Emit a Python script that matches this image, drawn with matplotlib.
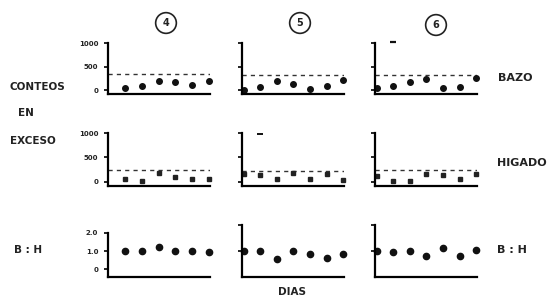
import matplotlib
matplotlib.use("Agg")
import matplotlib.pyplot as plt

# dias de muestreo por grupo (4, 5, 6)
dias_4 = [1, 2, 3, 4, 5, 6]
dias_56 = [0, 1, 2, 3, 4, 5, 6]

# conteos en exceso - bazo
bazo_4 = [40, 85, 190, 170, 100, 190]
bazo_5 = [0, 64, 190, 128, 20, 85, 210]
bazo_6 = [43, 85, 170, 234, 43, 64, 255]
bazo_ref = [340, 320, 320]

# conteos en exceso - higado
higado_4 = [61, 20, 184, 102, 61, 61]
higado_5 = [163, 143, 61, 184, 61, 163, 41]
higado_6 = [122, 20, 20, 163, 143, 61, 163]
higado_ref = [245, 225, 245]

# razon bazo : higado
bh_4 = [1.0, 1.0, 1.22, 1.0, 1.0, 0.94]
bh_5 = [1.0, 1.0, 0.56, 1.0, 0.83, 0.61, 0.83]
bh_6 = [1.0, 0.94, 1.0, 0.72, 1.17, 0.72, 1.06]

# puntos fuera de escala (dia, valor)
fuera_bazo_6 = (1, 1020)
fuera_higado_5 = (1, 980)

grupos = ["4", "5", "6"]

W, H = 552, 300
fig = plt.figure(figsize=(W / 100, H / 100), dpi=100)
fig.patch.set_facecolor("white")

FONT = dict(family="DejaVu Sans", weight="bold", color="#222222")


def px_axes(left, top, width, height):
    return fig.add_axes([left / W, 1 - (top + height) / H, width / W, height / H])


def style(ax, show_labels, ticks, ticklabels):
    for side in ("top", "right"):
        ax.spines[side].set_visible(False)
    ax.spines["left"].set_linewidth(1.6)
    ax.spines["bottom"].set_linewidth(1.6)
    ax.set_xticks([])
    ax.set_yticks(ticks)
    ax.tick_params(axis="y", length=3, width=1.2, pad=4, labelsize=5)
    if show_labels:
        ax.set_yticklabels(ticklabels, fontweight="bold", color="#222222")
    else:
        ax.set_yticklabels([])


col_left = [108, 242, 375]
col_w = 102
xlims = [(0, 6.05), (-0.1, 6.05), (-0.1, 6.05)]
dias = [dias_4, dias_56, dias_56]

bazo = [bazo_4, bazo_5, bazo_6]
higado = [higado_4, higado_5, higado_6]
bh = [bh_4, bh_5, bh_6]

for i in range(3):
    # fila 1: bazo
    ax = px_axes(col_left[i], 43, col_w, 51)
    ax.set_xlim(*xlims[i])
    ax.set_ylim(-85, 1000)
    ax.axhline(bazo_ref[i], color="#333333", lw=1.0, ls=(0, (3, 3)))
    ax.plot(dias[i], bazo[i], "o", color="#111111", ms=4, clip_on=False)
    style(ax, i == 0, [0, 500, 1000], ["0", "500", "1000"])
    if i == 2:
        ax.plot(*fuera_bazo_6, "_", color="#111111", ms=5, mew=1.6, clip_on=False)

    # fila 2: higado
    ax = px_axes(col_left[i], 133, col_w, 53)
    ax.set_xlim(*xlims[i])
    ax.set_ylim(-82, 1000)
    ax.axhline(higado_ref[i], color="#333333", lw=1.0, ls=(0, (3, 3)))
    ax.plot(dias[i], higado[i], "s", color="#222222", ms=2.8, clip_on=False)
    style(ax, i == 0, [0, 500, 1000], ["0", "500", "1000"])
    if i == 1:
        ax.plot(*fuera_higado_5, "_", color="#111111", ms=5, mew=1.4, clip_on=False)

    # fila 3: B:H
    ax = px_axes(col_left[i], 225, col_w, 52)
    ax.set_xlim(*xlims[i])
    ax.set_ylim(-0.44, 2.44)
    ax.plot(dias[i], bh[i], "o", color="#111111", ms=4.5, clip_on=False)
    if i == 0:
        ax.spines["left"].set_bounds(-0.44, 2.0)
        style(ax, True, [0, 1.0, 2.0], ["0", "1.0", "2.0"])
    else:
        style(ax, False, [1.0, 2.44], ["", ""])

# numeros de grupo en circulos
for name, (cx, cy) in zip(grupos, [(166, 23), (300, 23), (436, 25)]):
    fig.text(cx / W, 1 - cy / H, name, ha="center", va="center", fontsize=7,
             bbox=dict(boxstyle="circle,pad=0.55", fc="white", ec="#222222", lw=1.2),
             **FONT)


def label(x, y, s, ha="left", size=8):
    fig.text(x / W, 1 - y / H, s, ha=ha, va="center", fontsize=size, **FONT)


label(10, 87, "CONTEOS", size=7.5)
label(18, 113, "EN", size=7.5)
label(10, 141, "EXCESO", size=7.5)
label(14, 250, "B : H", size=7.5)
label(498, 78, "BAZO")
label(497, 163, "HIGADO")
label(497, 250, "B : H")
label(292, 292, "DIAS", ha="center", size=7.5)

fig.savefig("out.png", dpi=100, facecolor="white")
